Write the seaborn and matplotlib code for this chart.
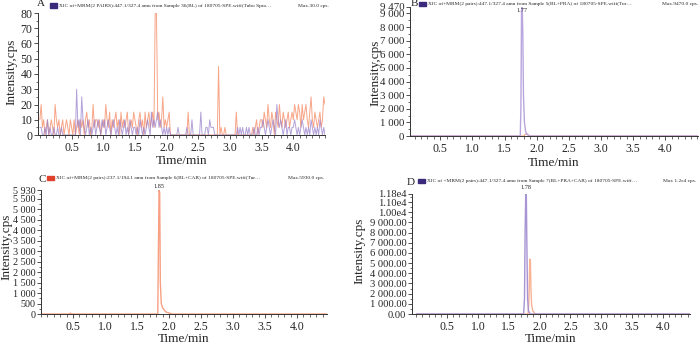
import numpy as np
import pandas as pd
import matplotlib
matplotlib.use("Agg")
import matplotlib.pyplot as plt
import seaborn as sns
from matplotlib.patches import Rectangle
from matplotlib.ticker import FixedLocator, MultipleLocator, AutoMinorLocator

sns.set_style("ticks")
plt.rcParams['font.family'] = ['Liberation Serif', 'DejaVu Serif']

# ============================================================
# DATA
# ============================================================
# Panel A: blank sample, noise scans every 0.02 min
time_a = np.round(np.arange(0, 4.501, 0.02), 2)
orange_a = [10, 20, 5, 10, 0, 5, 10, 0, 5, 10, 5, 0, 20, 10, 5, 10, 0, 5, 10, 0, 5, 10, 5, 0, 10,
            5, 0, 10, 0, 5, 10, 0, 10, 5, 10, 0, 10, 15, 5, 10, 0, 5, 20, 5, 10, 10, 5, 10, 0, 5,
            10, 5, 20, 10, 5, 15, 0, 10, 5, 10, 15, 5, 10, 0, 15, 5, 10, 5, 10, 15, 0, 5, 10, 5, 15,
            10, 5, 0, 10, 15, 5, 10, 0, 15, 5, 10, 15, 5, 10, 15, 5, 80, 80, 10, 15, 5, 10, 25, 5, 10,
            5, 10, 15, 0, 0, 0, 0, 0, 0, 0, 0, 0, 0, 0, 0, 0, 0, 15, 0, 0, 0, 0, 0, 0, 0,
            0, 0, 0, 0, 0, 0, 0, 0, 0, 0, 0, 0, 0, 0, 0, 0, 45, 0, 5, 0, 0, 5, 0, 0, 0,
            0, 0, 0, 0, 0, 15, 0, 0, 0, 0, 0, 0, 0, 0, 0, 0, 0, 0, 5, 0, 5, 10, 0, 5, 10,
            10, 5, 15, 10, 5, 20, 10, 5, 15, 10, 0, 15, 10, 5, 20, 10, 5, 15, 10, 5, 10, 15, 5, 10, 15,
            10, 20, 15, 10, 20, 15, 5, 20, 10, 15, 20, 10, 5, 15, 25, 10, 5, 15, 10, 5, 10, 15, 5, 10, 25,
            20]
purple_a = [5, 5, 0, 0, 5, 0, 10, 0, 5, 0, 0, 5, 0, 0, 5, 0, 0, 5, 0, 0, 0, 0, 0, 0, 0,
            0, 0, 0, 0, 30, 5, 10, 0, 25, 10, 5, 0, 5, 10, 0, 5, 0, 5, 10, 0, 5, 10, 5, 0, 10,
            5, 10, 0, 5, 10, 5, 0, 5, 10, 5, 0, 5, 0, 10, 5, 0, 5, 10, 0, 5, 0, 10, 5, 0, 5,
            5, 0, 5, 0, 10, 5, 0, 5, 0, 5, 10, 5, 0, 15, 5, 10, 5, 10, 15, 5, 10, 5, 0, 5, 0,
            5, 0, 5, 0, 0, 0, 0, 0, 0, 5, 0, 0, 0, 0, 0, 0, 5, 0, 0, 0, 10, 0, 0, 0, 0,
            0, 0, 15, 0, 0, 0, 5, 5, 0, 10, 5, 5, 5, 0, 0, 0, 0, 0, 0, 0, 0, 0, 0, 0, 0,
            0, 0, 0, 0, 0, 0, 5, 0, 5, 0, 5, 0, 0, 5, 0, 5, 0, 0, 0, 5, 0, 0, 5, 0, 5,
            5, 10, 5, 0, 5, 10, 5, 0, 5, 10, 5, 0, 20, 10, 5, 10, 5, 0, 5, 10, 0, 5, 5, 0, 5,
            5, 10, 5, 0, 5, 0, 5, 10, 5, 0, 5, 0, 5, 0, 10, 5, 0, 5, 0, 5, 0, 10, 5, 0, 5,
            0]

# Panel B: BL + PRA
time_b_purple = [0.0, 1.745, 1.755, 1.765, 1.775, 1.785, 1.795, 1.81, 1.83, 1.86, 1.90, 4.5]
purple_b = [0, 0, 2000, 9200, 9470, 7500, 3000, 1000, 300, 80, 0, 0]
time_b_orange = [0.0, 1.80, 1.83, 1.86, 1.90, 4.5]
orange_b = [0, 0, 150, 100, 0, 0]

# Panel C: BL + CAR
time_c_orange = [0.0, 0.44, 0.46, 0.48, 1.80, 1.825, 1.835, 1.845, 1.855, 1.865, 1.88, 1.90,
                 1.95, 2.0, 2.05, 4.5]
orange_c = [0, 0, 40, 0, 0, 0, 3000, 5930, 5800, 1500, 500, 300, 100, 50, 0, 0]

# Panel D: BL + PRA + CAR
time_d_purple = [0.0, 1.74, 1.755, 1.765, 1.775, 1.785, 1.795, 1.805, 1.82, 1.85, 4.5]
purple_d = [0, 0, 1500, 8000, 11800, 11600, 6000, 1500, 300, 0, 0]
time_d_orange = [0.0, 1.815, 1.83, 1.84, 1.85, 1.86, 1.87, 1.89, 1.93, 4.5]
orange_d = [0, 0, 2000, 5400, 5300, 2500, 900, 300, 0, 0]

yticks_a = [0, 10, 20, 30, 40, 50, 60, 70, 80]
yticks_b = [0, 1000, 2000, 3000, 4000, 5000, 6000, 7000, 8000, 9000, 9470]
yticks_c = [0, 500, 1000, 1500, 2000, 2500, 3000, 3500, 4000, 4500, 5000, 5500, 5930]
yticks_d = [0, 1000, 2000, 3000, 4000, 5000, 6000, 7000, 8000, 9000, 10000, 11000, 11800]

headers = [
    "XIC of+MRM(2 PAIRS):447.1/327.4 amu from Sample 36(BL) of 180705-SPE.wiff(Tubo Spra\u2026",
    "XIC of+MRM(2 pairs):447.1/327.4 amu from Sample 5(BL+PRA) of 180705-SPE.wiff(Tur\u2026",
    "XIC of+MRM(2 pairs):237.1/194.1 amu from Sample 6(BL+CAR) of 180705-SPE.wiff(Tur\u2026",
    "XIC of +MRM(2 pairs):447.1/327.4 amu from Sample 7(BL+PRA+CAR) of 180705-SPE.wiff\u2026",
]
max_texts = ["Max.30.0 cps.", "Max.9470.0 cps.", "Max.5930.0 cps.", "Max 1.2e4 cps."]
letters = ["A", "B", "C", "D"]

ORANGE = "#f6865f"
PURPLE = "#9a82cc"
DARK_PURPLE = "#3b2a7c"
RED = "#e0402a"

W, H = 700, 344


def fx(px):
    return px / W


def fy(py):
    return 1 - py / H


def sep(v):
    return f"{v:,}".replace(",", " ")


def sep2(v):
    if v >= 10000:
        return f"{v/1e4:.2f}e4"
    return f"{v:,.2f}".replace(",", " ")


fig = plt.figure(figsize=(7, 3.44), dpi=100)

# axes boxes in pixels: left, right, top, bottom
boxes = [(38, 325, 13, 135), (410, 698, 7, 136), (41, 327, 190, 314), (412, 690, 194, 314)]
xlims = [(-0.03, 4.50), (0.03, 4.51), (0.0, 4.47), (-0.07, 4.44)]
axes = []
for (l, r, t, b) in boxes:
    axes.append(fig.add_axes([fx(l), fy(b), (r - l) / W, (b - t) / H]))

# ---- A ----
ax = axes[0]
df_a = pd.DataFrame({"t": time_a, "orange": orange_a, "purple": purple_a})
sns.lineplot(data=df_a, x="t", y="orange", ax=ax, color=ORANGE, lw=0.7, alpha=0.75)
sns.lineplot(data=df_a, x="t", y="purple", ax=ax, color=PURPLE, lw=0.7, alpha=0.75)
ax.set_ylim(0, 80)
ax.yaxis.set_major_locator(FixedLocator(yticks_a))
ax.set_yticklabels([str(v) for v in yticks_a])

# ---- B ----
ax = axes[1]
sns.lineplot(x=time_b_orange, y=orange_b, ax=ax, color=ORANGE, lw=0.8, alpha=0.8)
sns.lineplot(x=time_b_purple, y=purple_b, ax=ax, color="#b9a6de", lw=1.0)
ax.set_ylim(0, 9470)
ax.yaxis.set_major_locator(FixedLocator(yticks_b))
ax.set_yticklabels([sep(v) for v in yticks_b])
ax.text(1.77, 0.975, "1.77", ha="center", va="center", fontsize=4.5,
        transform=ax.get_xaxis_transform(), clip_on=False)

# ---- C ----
ax = axes[2]
sns.lineplot(x=time_c_orange, y=orange_c, ax=ax, color="#f7a083", lw=1.0)
ax.set_ylim(0, 5930)
ax.yaxis.set_major_locator(FixedLocator(yticks_c))
ax.set_yticklabels([sep(v) for v in yticks_c])
ax.text(1.85, 1.025, "1.85", ha="center", va="center", fontsize=4.5,
        transform=ax.get_xaxis_transform(), clip_on=False)

# ---- D ----
ax = axes[3]
sns.lineplot(x=time_d_orange, y=orange_d, ax=ax, color="#f9b295", lw=1.0)
sns.lineplot(x=time_d_purple, y=purple_d, ax=ax, color="#a893d4", lw=1.0)
ax.set_ylim(0, 11800)
ax.yaxis.set_major_locator(FixedLocator(yticks_d))
ax.set_yticklabels([sep2(v) for v in yticks_d])
ax.text(1.78, 1.05, "1.78", ha="center", va="center", fontsize=4.5,
        transform=ax.get_xaxis_transform(), clip_on=False)

# common styling
ylab_x = [-0.092, -0.12, -0.122, -0.19]
ylab_y = [0.52, 0.49, 0.54, 0.53]
ylab_size = [8.5, 7.8, 7.3, 7.6]
xlab_y = [-0.21, -0.21, -0.205, -0.205]
for i, ax in enumerate(axes):
    ax.set_xlim(*xlims[i])
    ax.xaxis.set_major_locator(FixedLocator([0.5, 1.0, 1.5, 2.0, 2.5, 3.0, 3.5, 4.0]))
    ax.set_xticklabels(["0.5", "1.0", "1.5", "2.0", "2.5", "3.0", "3.5", "4.0"])
    ax.xaxis.set_minor_locator(MultipleLocator(0.1))
    ax.yaxis.set_minor_locator(AutoMinorLocator(2))
    ax.tick_params(axis="both", which="major", direction="out", length=3, width=0.6,
                   labelsize=ylab_size[i], pad=1, color="#333333")
    ax.tick_params(axis="both", which="minor", direction="out", length=1.8, width=0.5,
                   color="#333333")
    ax.tick_params(axis="x", labelsize=8.5, pad=2)
    for s in ["top", "right"]:
        ax.spines[s].set_visible(False)
    for s in ["left", "bottom"]:
        ax.spines[s].set_linewidth(0.7)
        ax.spines[s].set_color("#333333")
    ax.set_xlabel("Time/min", fontsize=9.5)
    ax.xaxis.label.set_va("center")
    ax.xaxis.set_label_coords(0.5, xlab_y[i])
    ax.set_ylabel("Intensity,cps", fontsize=9.5)
    ax.yaxis.label.set_va("center")
    ax.yaxis.set_label_coords(ylab_x[i], ylab_y[i])

# headers, legend squares, panel letters
letter_pos = [(41, 4), (414, 4), (42, 180), (411, 182)]
square_pos = [(50, 5.5), (419, 4), (47, 178), (418, 181)]
square_col = [DARK_PURPLE, DARK_PURPLE, RED, DARK_PURPLE]
max_pos = [(313, 6), (680, 4), (306, 178), (680, 181)]
for i in range(4):
    lx, ly = letter_pos[i]
    fig.text(fx(lx), fy(ly), letters[i], fontsize=8, ha="center", va="center")
    sx, sy = square_pos[i]
    fig.patches.append(Rectangle((fx(sx), fy(sy + 2)), 7 / W, 4 / H, transform=fig.transFigure,
                                 color=square_col[i], figure=fig))
    fig.text(fx(sx + 9), fy(sy), headers[i], fontsize=3.9, ha="left", va="center")
    mx, my = max_pos[i]
    fig.text(fx(mx), fy(my), max_texts[i], fontsize=3.9, ha="center", va="center")

plt.savefig("out.png", dpi=100)
